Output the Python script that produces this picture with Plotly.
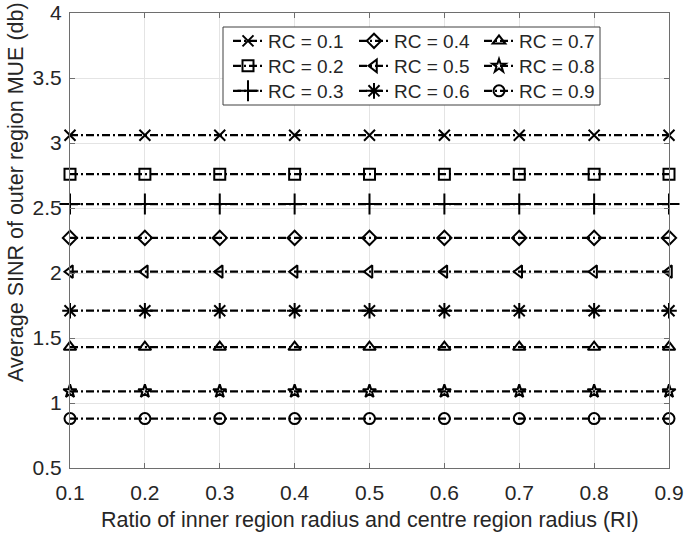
import plotly.graph_objects as go

ri = [0.1, 0.2, 0.3, 0.4, 0.5, 0.6, 0.7, 0.8, 0.9]

rc_01 = [3.06, 3.06, 3.06, 3.06, 3.06, 3.06, 3.06, 3.06, 3.06]
rc_02 = [2.76, 2.76, 2.76, 2.76, 2.76, 2.76, 2.76, 2.76, 2.76]
rc_03 = [2.53, 2.53, 2.53, 2.53, 2.53, 2.53, 2.53, 2.53, 2.53]
rc_04 = [2.27, 2.27, 2.27, 2.27, 2.27, 2.27, 2.27, 2.27, 2.27]
rc_05 = [2.01, 2.01, 2.01, 2.01, 2.01, 2.01, 2.01, 2.01, 2.01]
rc_06 = [1.71, 1.71, 1.71, 1.71, 1.71, 1.71, 1.71, 1.71, 1.71]
rc_07 = [1.43, 1.43, 1.43, 1.43, 1.43, 1.43, 1.43, 1.43, 1.43]
rc_08 = [1.09, 1.09, 1.09, 1.09, 1.09, 1.09, 1.09, 1.09, 1.09]
rc_09 = [0.88, 0.88, 0.88, 0.88, 0.88, 0.88, 0.88, 0.88, 0.88]

series_names = ["RC = 0.1", "RC = 0.2", "RC = 0.3", "RC = 0.4", "RC = 0.5",
                "RC = 0.6", "RC = 0.7", "RC = 0.8", "RC = 0.9"]
series_values = [rc_01, rc_02, rc_03, rc_04, rc_05, rc_06, rc_07, rc_08, rc_09]
symbols = ["x-thin-open", "square-open", "cross-thin-open", "diamond-open",
           "triangle-left-open", "asterisk-open", "triangle-up-open",
           "star-open", "circle-open"]
sizes = [11, 11, 15, 11, 11, 13, 11, 10, 11]

x_ticks = [0.1, 0.2, 0.3, 0.4, 0.5, 0.6, 0.7, 0.8, 0.9]
y_ticks = [0.5, 1, 1.5, 2, 2.5, 3, 3.5, 4]
y_tick_text = ["0.5", "1", "1.5", "2", "2.5", "3", "3.5", "4"]

W, H = 684, 536
L, R, T, B = 70, 15, 13, 68
pw, ph = W - L - R, H - T - B


def px_x(p):
    return (p - L) / pw


def px_y(p):
    return (H - B - p) / ph


legend_ids = ["legend", "legend2", "legend3", "legend4", "legend5",
              "legend6", "legend7", "legend8", "legend9"]
col_px = [228, 354, 479]
row_px = [42, 67, 92]

fig = go.Figure()
for i, (name, vals, sym, sz) in enumerate(zip(series_names, series_values, symbols, sizes)):
    fig.add_trace(go.Scatter(
        x=ri, y=vals, name=name, mode="lines+markers",
        line=dict(color="black", width=2.2, dash="8px,3px,2px,3px"),
        marker=dict(symbol=sym, size=sz, color="black",
                    line=dict(color="black", width=2)),
        cliponaxis=False, legend=legend_ids[i],
    ))

axis_col = "#6e6e6e"
font = "Liberation Sans, Arial, sans-serif"

fig.update_layout(
    width=W, height=H,
    margin=dict(l=L, r=R, t=T, b=B, autoexpand=False),
    paper_bgcolor="white", plot_bgcolor="white",
    font=dict(family=font, color="#262626"),
    xaxis=dict(range=[0.1, 0.9], tickvals=x_ticks, ticktext=[str(v) for v in x_ticks],
               showgrid=True, gridcolor="#e4e4e4", gridwidth=1,
               showline=True, linecolor=axis_col, linewidth=1, mirror="ticks",
               ticks="inside", ticklen=5, tickcolor=axis_col, automargin=False,
               ticklabeloverflow="allow", ticklabelstandoff=6,
               tickfont=dict(size=21, family=font, color="#262626"),
               zeroline=False),
    yaxis=dict(range=[0.5, 4], tickvals=y_ticks, ticktext=y_tick_text,
               showgrid=True, gridcolor="#e4e4e4", gridwidth=1,
               showline=True, linecolor=axis_col, linewidth=1, mirror="ticks",
               ticks="inside", ticklen=5, tickcolor=axis_col, automargin=False,
               ticklabeloverflow="allow", ticklabelstandoff=3,
               tickfont=dict(size=21, family=font, color="#262626"),
               zeroline=False),
    showlegend=True,
)

leg_common = dict(bgcolor="rgba(0,0,0,0)", borderwidth=0,
                  font=dict(size=19, family=font, color="#262626"),
                  xanchor="left", yanchor="top", orientation="v")
leg_layout = {}
for i, lid in enumerate(legend_ids):
    col, row = i // 3, i % 3
    leg_layout[lid] = dict(x=px_x(col_px[col]), y=px_y(row_px[row] - 20), **leg_common)
fig.update_layout(**leg_layout)

fig.add_shape(type="rect", xref="paper", yref="paper",
              x0=px_x(223), x1=px_x(600), y0=px_y(105), y1=px_y(27),
              line=dict(color="#404040", width=1), fillcolor="white", layer="above")

fig.add_annotation(text="Ratio of inner region radius and centre region radius (RI)",
                   xref="paper", yref="paper", x=0.5, y=px_y(520),
                   xanchor="center", yanchor="middle", showarrow=False,
                   font=dict(size=21.5, family=font, color="#262626"))
fig.add_annotation(text="Average SINR of outer region MUE (db)",
                   xref="paper", yref="paper", x=px_x(16), y=px_y(192),
                   xanchor="center", yanchor="middle", showarrow=False, textangle=-90,
                   font=dict(size=21.5, family=font, color="#262626"))

fig.write_html("out.html")
